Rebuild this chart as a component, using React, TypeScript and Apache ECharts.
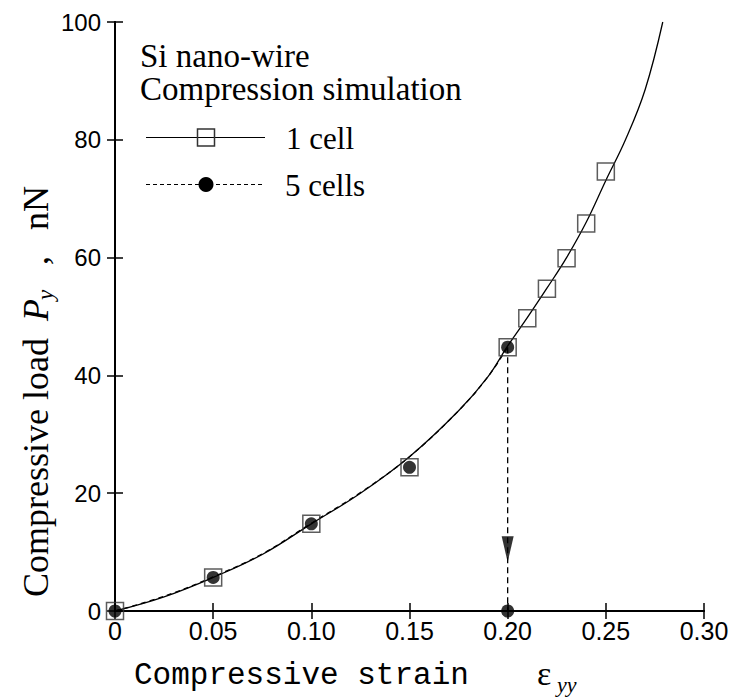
import React, { useEffect, useRef } from "react";
import * as echarts from "echarts";

// Fitted curve for 1 cell (solid line)
const curveX = [0, 0.025, 0.05, 0.075, 0.1, 0.125, 0.15, 0.175, 0.19, 0.2, 0.21, 0.22, 0.23, 0.24, 0.25, 0.26, 0.27, 0.279];
const curveY = [0, 2.4, 5.7, 9.6, 14.8, 20.0, 26.2, 34.0, 39.8, 45.0, 49.8, 54.8, 60.0, 66.0, 73.1, 80.0, 88.5, 100];

// Fitted curve for 5 cells (dashed line)
const fiveFitX = [0, 0.025, 0.05, 0.075, 0.1, 0.125, 0.15, 0.175, 0.19, 0.2];
const fiveFitY = [0, 2.5, 5.8, 9.7, 14.9, 20.1, 26.2, 34.0, 39.8, 44.8];

// 1 cell (open squares)
const oneCellX = [0, 0.05, 0.1, 0.15, 0.2, 0.21, 0.22, 0.23, 0.24, 0.25];
const oneCellY = [0, 5.7, 14.8, 24.4, 44.8, 49.7, 54.7, 59.9, 65.8, 74.6];

// 5 cells (filled circles)
const fiveCellX = [0, 0.05, 0.1, 0.15, 0.2];
const fiveCellY = [0, 5.7, 14.8, 24.4, 44.8];

// Projection of the 5-cell end point onto the strain axis
const dropX = [0.2, 0.2];
const dropY = [44.8, 0];
const arrowPoint = [0.2, 10.5];

const xTicks = ["0", "0.05", "0.10", "0.15", "0.20", "0.25", "0.30"];

const SERIF = "'Liberation Serif', 'Times New Roman', serif";
const SANS = "'Liberation Sans', Arial, sans-serif";
const MONO = "'Liberation Mono', 'Courier New', monospace";

const zip = (xs: number[], ys: number[]) => xs.map((x, i) => [x, ys[i]]);

export default function App() {
  const ref = useRef<HTMLDivElement>(null);
  useEffect(() => {
    if (!ref.current) return;
    const chart = echarts.init(ref.current, undefined, { renderer: "svg" });
    const axisLine = { show: true, lineStyle: { color: "#000", width: 2 } };
    const axisTick = { show: true, inside: true, length: 8, lineStyle: { color: "#000", width: 1.5 } };
    const option: any = {
      animation: false,
      backgroundColor: "#fff",
      grid: { left: 115, top: 22, right: 35, bottom: 88, containLabel: false },
      xAxis: [
        {
          type: "value", min: 0, max: 0.3, interval: 0.05, position: "bottom",
          axisLine, axisTick, splitLine: { show: false },
          axisLabel: {
            color: "#000", fontSize: 25, fontFamily: SANS, margin: 7,
            formatter: (v: number) => xTicks[Math.round(v / 0.05)] ?? "",
          },
        },
        {
          type: "value", min: 0, max: 0.3, interval: 0.05, position: "top",
          axisLine, axisTick, splitLine: { show: false }, axisLabel: { show: false },
        },
      ],
      yAxis: [
        {
          type: "value", min: 0, max: 100, interval: 20, position: "left",
          axisLine, axisTick, splitLine: { show: false },
          axisLabel: { color: "#000", fontSize: 24, fontFamily: SANS, margin: 14 },
        },
        {
          type: "value", min: 0, max: 100, interval: 20, position: "right",
          axisLine, axisTick, splitLine: { show: false }, axisLabel: { show: false },
        },
      ],
      series: [
        {
          type: "line", data: zip(curveX, curveY), smooth: 0.4, showSymbol: false,
          lineStyle: { color: "#000", width: 1.3 }, z: 2,
        },
        {
          type: "line", data: zip(fiveFitX, fiveFitY), smooth: 0.4, showSymbol: false,
          lineStyle: { color: "#000", width: 1.3, type: [5, 4] }, z: 2,
        },
        {
          type: "line", data: zip(dropX, dropY), showSymbol: false,
          lineStyle: { color: "#000", width: 1.3, type: [6, 4] }, z: 2,
        },
        {
          type: "scatter", data: zip(oneCellX, oneCellY), symbol: "rect", symbolSize: 17, clip: false,
          itemStyle: { color: "rgba(0,0,0,0)", borderColor: "#333", borderWidth: 1.5 }, z: 3,
        },
        {
          type: "scatter", data: [...zip(fiveCellX, fiveCellY), [dropX[1], dropY[1]]], symbol: "circle",
          symbolSize: 13, clip: false, itemStyle: { color: "#000" }, z: 4,
        },
        {
          type: "scatter", data: [arrowPoint], symbol: "triangle", symbolRotate: 180,
          symbolSize: [12, 26], itemStyle: { color: "#000" }, z: 4,
        },
      ],
      graphic: [
        // legend block
        { type: "text", x: 140, y: 56, style: { text: "Si nano-wire", fontSize: 33, fontFamily: SERIF, fill: "#000", verticalAlign: "middle" } },
        { type: "text", x: 140, y: 89, style: { text: "Compression simulation", fontSize: 33, fontFamily: SERIF, fill: "#000", verticalAlign: "middle" } },
        { type: "line", shape: { x1: 146, y1: 137.5, x2: 265, y2: 137.5 }, style: { stroke: "#000", lineWidth: 1.2 } },
        { type: "rect", shape: { x: 197.5, y: 129, width: 17, height: 17 }, style: { fill: "rgba(0,0,0,0)", stroke: "#333", lineWidth: 1.5 } },
        { type: "text", x: 286, y: 138, style: { text: "1 cell", fontSize: 31, fontFamily: SERIF, fill: "#000", verticalAlign: "middle" } },
        { type: "line", shape: { x1: 146, y1: 184.5, x2: 265, y2: 184.5 }, style: { stroke: "#000", lineWidth: 1.2, lineDash: [4, 3] } },
        { type: "circle", shape: { cx: 206, cy: 184.5, r: 7.5 }, style: { fill: "#000" } },
        { type: "text", x: 285, y: 185, style: { text: "5 cells", fontSize: 31, fontFamily: SERIF, fill: "#000", verticalAlign: "middle" } },
        // y-axis title
        {
          type: "group", x: 36, y: 597, rotation: Math.PI / 2,
          children: [
            { type: "text", x: 0, y: 0, style: { text: "Compressive load", fontSize: 36, fontFamily: SERIF, fill: "#000", verticalAlign: "middle" } },
            { type: "text", x: 276, y: 0, style: { text: "P", fontSize: 36, fontStyle: "italic", fontFamily: SERIF, fill: "#000", verticalAlign: "middle" } },
            { type: "text", x: 297, y: 9, style: { text: "y", fontSize: 23, fontStyle: "italic", fontFamily: SERIF, fill: "#000", verticalAlign: "middle" } },
            { type: "text", x: 332, y: 0, style: { text: ",", fontSize: 36, fontFamily: SERIF, fill: "#000", verticalAlign: "middle" } },
            { type: "text", x: 367, y: 0, style: { text: "nN", fontSize: 36, fontFamily: SERIF, fill: "#000", verticalAlign: "middle" } },
          ],
        },
        // x-axis title
        { type: "text", x: 134, y: 675, style: { text: "Compressive strain", fontSize: 31, fontFamily: MONO, fill: "#000", verticalAlign: "middle" } },
        { type: "text", x: 537, y: 673, style: { text: "ε", fontSize: 34, fontFamily: SERIF, fill: "#000", verticalAlign: "middle" } },
        { type: "text", x: 557, y: 684, style: { text: "yy", fontSize: 22, fontStyle: "italic", fontFamily: SERIF, fill: "#000", verticalAlign: "middle" } },
      ],
    };
    chart.setOption(option);
    return () => chart.dispose();
  }, []);
  return (
    <div
      ref={ref}
      style={{ position: "fixed", left: 0, top: 0, width: 739, height: 699, background: "#fff" }}
    />
  );
}
